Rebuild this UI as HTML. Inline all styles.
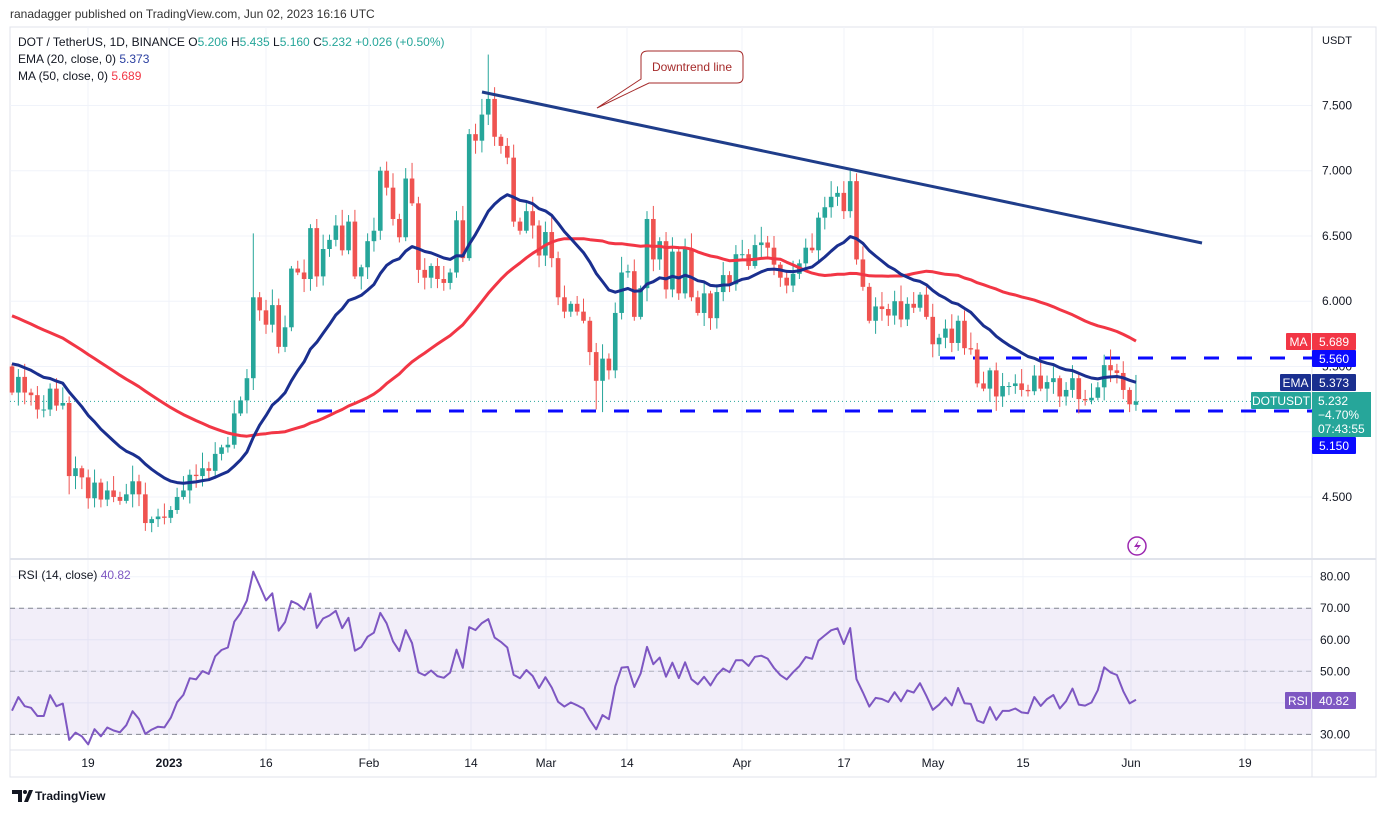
<!DOCTYPE html>
<html><head><meta charset="utf-8"><style>
html,body{margin:0;padding:0;background:#fff;width:1386px;height:813px;overflow:hidden}
svg text{font-family:"Liberation Sans",sans-serif}
</style></head><body>
<svg id="s" width="1386" height="813" xmlns="http://www.w3.org/2000/svg"></svg>
<script>
var c=[5.30,5.42,5.30,5.28,5.17,5.17,5.33,5.20,5.22,4.66,4.72,4.65,4.49,4.61,4.48,4.55,4.50,4.47,4.52,4.62,4.52,4.30,4.33,4.35,4.34,4.40,4.50,4.55,4.67,4.66,4.72,4.70,4.83,4.88,4.90,5.14,5.24,5.41,6.03,5.93,5.82,5.97,5.65,5.80,6.25,6.22,6.17,6.56,6.19,6.40,6.47,6.58,6.39,6.61,6.19,6.26,6.46,6.54,7.00,6.87,6.63,6.49,6.94,6.75,6.24,6.18,6.27,6.17,6.14,6.22,6.62,6.33,7.28,7.23,7.43,7.55,7.26,7.19,7.10,6.61,6.54,6.69,6.58,6.35,6.53,6.33,6.03,5.92,5.98,5.92,5.85,5.61,5.39,5.56,5.47,5.91,6.22,6.23,5.88,6.10,6.63,6.32,6.46,6.09,6.38,6.06,6.40,6.03,5.91,6.06,5.87,6.07,6.20,6.13,6.36,6.36,6.27,6.43,6.45,6.41,6.28,6.18,6.12,6.21,6.29,6.41,6.39,6.64,6.72,6.80,6.83,6.69,6.92,6.32,6.11,5.85,5.96,5.94,5.89,6.00,5.86,5.98,5.95,6.05,5.88,5.67,5.72,5.79,5.68,5.85,5.64,5.63,5.37,5.33,5.47,5.27,5.35,5.35,5.37,5.32,5.31,5.43,5.33,5.38,5.41,5.27,5.32,5.41,5.25,5.24,5.26,5.34,5.51,5.47,5.45,5.32,5.21,5.232];
var N=c.length,o=[];for(var i=0;i<N;i++)o.push(i?c[i-1]:5.50);o[N-1]=5.206;
function X(i){return 12+6.35*i}
function Y(p){return 170.7+(7-p)*130.5}
function R(r){return 576.7+(80-r)*3.153}
var h='';
// frame
h+='<rect x="10" y="27" width="1366" height="750" fill="#fff" stroke="#e0e3eb"/>';
// grid
var gp=[4.5,5,5.5,6,6.5,7,7.5];gp.forEach(function(p){h+='<line x1="10" x2="1312" y1="'+Y(p)+'" y2="'+Y(p)+'" stroke="#f0f3fa"/>';});
[80,70,60,50,40,30].forEach(function(r){h+='<line x1="10" x2="1312" y1="'+R(r)+'" y2="'+R(r)+'" stroke="#f0f3fa"/>';});
var tl=[[88,'19'],[169,'2023'],[266,'16'],[369,'Feb'],[471,'14'],[546,'Mar'],[627,'14'],[742,'Apr'],[844,'17'],[933,'May'],[1023,'15'],[1131,'Jun'],[1245,'19']];
tl.forEach(function(t){h+='<line x1="'+t[0]+'" x2="'+t[0]+'" y1="27" y2="750" stroke="#f0f3fa"/>';h+='<text x="'+t[0]+'" y="767" font-size="12" fill="#131722" text-anchor="middle"'+(t[1]=='2023'?' font-weight="bold"':'')+'>'+t[1]+'</text>';});
// separators
h+='<line x1="1312" x2="1312" y1="27" y2="777" stroke="#e0e3eb"/>';
h+='<line x1="10" x2="1376" y1="559" y2="559" stroke="#e0e3eb" stroke-width="2"/>';
h+='<line x1="10" x2="1376" y1="750" y2="750" stroke="#e0e3eb"/>';
// price labels
gp.forEach(function(p){h+='<text x="1322" y="'+(Y(p)+4)+'" font-size="12" fill="#131722">'+p.toFixed(3)+'</text>';});
h+='<text x="1322" y="44" font-size="11" fill="#131722">USDT</text>';
// RSI band
h+='<rect x="10" y="'+R(70)+'" width="1302" height="'+(R(30)-R(70))+'" fill="#7e57c2" fill-opacity="0.1"/>';
[70,50,30].forEach(function(r){h+='<line x1="10" x2="1312" y1="'+R(r)+'" y2="'+R(r)+'" stroke="#787b86" stroke-dasharray="5,4" stroke-opacity="'+(r==50?0.5:0.9)+'"/>';});
[80,70,60,50,30].forEach(function(r){h+='<text x="1320" y="'+(R(r)+4)+'" font-size="12" fill="#131722">'+r.toFixed(2)+'</text>';});
// MA50 with pre-history
var ph=[];for(var k=0;k<49;k++)ph.push(6.4-k*1.0/48);var all=ph.concat(c);
var ma=[];for(var i=0;i<N;i++){var s=0;for(var k=0;k<50;k++)s+=all[i+49-k];ma.push(s/50);}
var ema=[],e=5.52,a=2/21;for(var i=0;i<N;i++){e=i?(c[i]*a+e*(1-a)):5.52;ema.push(e);}
// RSI
var rsi=[],ag=0.05,al=0.068;for(var i=0;i<N;i++){var d=i?c[i]-c[i-1]:c[0]-5.50;var g=d>0?d:0,l=d<0?-d:0;ag=(ag*13+g)/14;al=(al*13+l)/14;rsi.push(100-100/(1+ag/al));}
function pl(arr,f,col,w){var p='';for(var i=0;i<N;i++)p+=(i?'L':'M')+X(i).toFixed(1)+' '+f(arr[i]).toFixed(1);return '<path d="'+p+'" fill="none" stroke="'+col+'" stroke-width="'+w+'" stroke-linejoin="round"/>';}
// dashed levels and current price line
h+='<line x1="10" x2="1312" y1="'+Y(5.232)+'" y2="'+Y(5.232)+'" stroke="#26a69a" stroke-dasharray="1,3"/>';
h+='<line x1="317" x2="1312" y1="411" y2="411" stroke="#0a0aff" stroke-width="3" stroke-dasharray="15,18"/>';
h+='<line x1="940" x2="1312" y1="358" y2="358" stroke="#0a0aff" stroke-width="3" stroke-dasharray="15,18"/>';
// candles
var sp={38:[6.52,null],75:[7.89,null],132:[7.0,null],93:[null,5.15],92:[null,5.17],9:[null,4.52],21:[null,4.24],155:[null,5.16],168:[null,5.14],177:[5.435,5.16]};
for(var i=0;i<N;i++){var up=c[i]>=o[i],col=up?'#26a69a':'#ef5350';var t=Math.max(o[i],c[i]),b=Math.min(o[i],c[i]);
var w1=0.02+((i*37)%11)/100,w2=0.02+((i*53)%9)/100;var hi=t+w1,lo=b-w2;if(sp[i]){if(sp[i][0])hi=sp[i][0];if(sp[i][1])lo=sp[i][1];}
var x=X(i);h+='<line x1="'+x+'" x2="'+x+'" y1="'+Y(hi)+'" y2="'+Y(lo)+'" stroke="'+col+'" stroke-width="1"/>';
var bh=Math.max(1,Y(b)-Y(t));h+='<rect x="'+(x-2.3)+'" y="'+Y(t)+'" width="4.6" height="'+bh+'" fill="'+col+'"/>';}
h+=pl(ma,Y,'#f23645',3);h+=pl(ema,Y,'#1a2f8f',3);
h+=pl(rsi,R,'#7e57c2',2);
// downtrend line
h+='<line x1="482" y1="92" x2="1202" y2="243" stroke="#1f3d8a" stroke-width="3"/>';
// callout
h+='<path d="M648 51 H737 Q743 51 743 57 V77 Q743 83 737 83 H649 L597 108 L641 79 V57 Q641 51 648 51 Z" fill="#fff" stroke="#a52a2a" stroke-width="1"/>';
h+='<text x="692" y="71" font-size="12" fill="#a52a2a" text-anchor="middle">Downtrend line</text>';
// header/legend
h+='<text x="10" y="18" font-size="12" fill="#333">ranadagger published on TradingView.com, Jun 02, 2023 16:16 UTC</text>';
h+='<text x="18" y="46" font-size="12" fill="#131722">DOT / TetherUS, 1D, BINANCE <tspan>O</tspan><tspan fill="#26a69a">5.206</tspan> H<tspan fill="#26a69a">5.435</tspan> L<tspan fill="#26a69a">5.160</tspan> C<tspan fill="#26a69a">5.232 +0.026 (+0.50%)</tspan></text>';
h+='<text x="18" y="63" font-size="12" fill="#131722">EMA (20, close, 0) <tspan fill="#2a3fa0">5.373</tspan></text>';
h+='<text x="18" y="80" font-size="12" fill="#131722">MA (50, close, 0) <tspan fill="#f23645">5.689</tspan></text>';
h+='<text x="18" y="579" font-size="12" fill="#131722">RSI (14, close) <tspan fill="#7e57c2">40.82</tspan></text>';
// right labels
function bx(x,y,w,hh,col,txt,tx){return '<rect x="'+x+'" y="'+y+'" width="'+w+'" height="'+hh+'" fill="'+col+'" rx="1"/><text x="'+(tx||x+w/2)+'" y="'+(y+13)+'" font-size="12" fill="#fff" text-anchor="middle">'+txt+'</text>';}
h+=bx(1286,333,25,17,'#f23645','MA')+bx(1312,333,44,17,'#f23645','5.689');
h+=bx(1312,350,44,17,'#0a0aff','5.560');
h+=bx(1280,374,31,17,'#1a2f8f','EMA')+bx(1312,374,44,17,'#1a2f8f','5.373');
h+=bx(1251,392,60,17,'#26a69a','DOTUSDT');
h+='<rect x="1312" y="392" width="59" height="45" fill="#26a69a"/><text x="1318" y="405" font-size="12" fill="#fff">5.232</text><text x="1318" y="419" font-size="12" fill="#fff">−4.70%</text><text x="1318" y="433" font-size="12" fill="#fff">07:43:55</text>';
h+=bx(1312,437,44,17,'#0a0aff','5.150');
h+=bx(1285,692,26,17,'#7e57c2','RSI')+bx(1312,692,44,17,'#7e57c2','40.82');
// flash icon
h+='<circle cx="1137" cy="546" r="9" fill="none" stroke="#9c27b0" stroke-width="1.5"/><path d="M1139 540 L1134 547 H1138 L1135 552 L1141 545 H1137 Z" fill="#9c27b0"/>';
// footer
h+='<path d="M12 790 H22 V802 H18 V794 H12 Z M24 802 L29 790 H33 L28 802 Z" fill="#131722"/><circle cx="25" cy="792" r="2" fill="#131722"/>';
h+='<text x="35" y="800" font-size="12" font-weight="bold" fill="#131722">TradingView</text>';
document.getElementById('s').innerHTML=h;
</script>
</body></html>
